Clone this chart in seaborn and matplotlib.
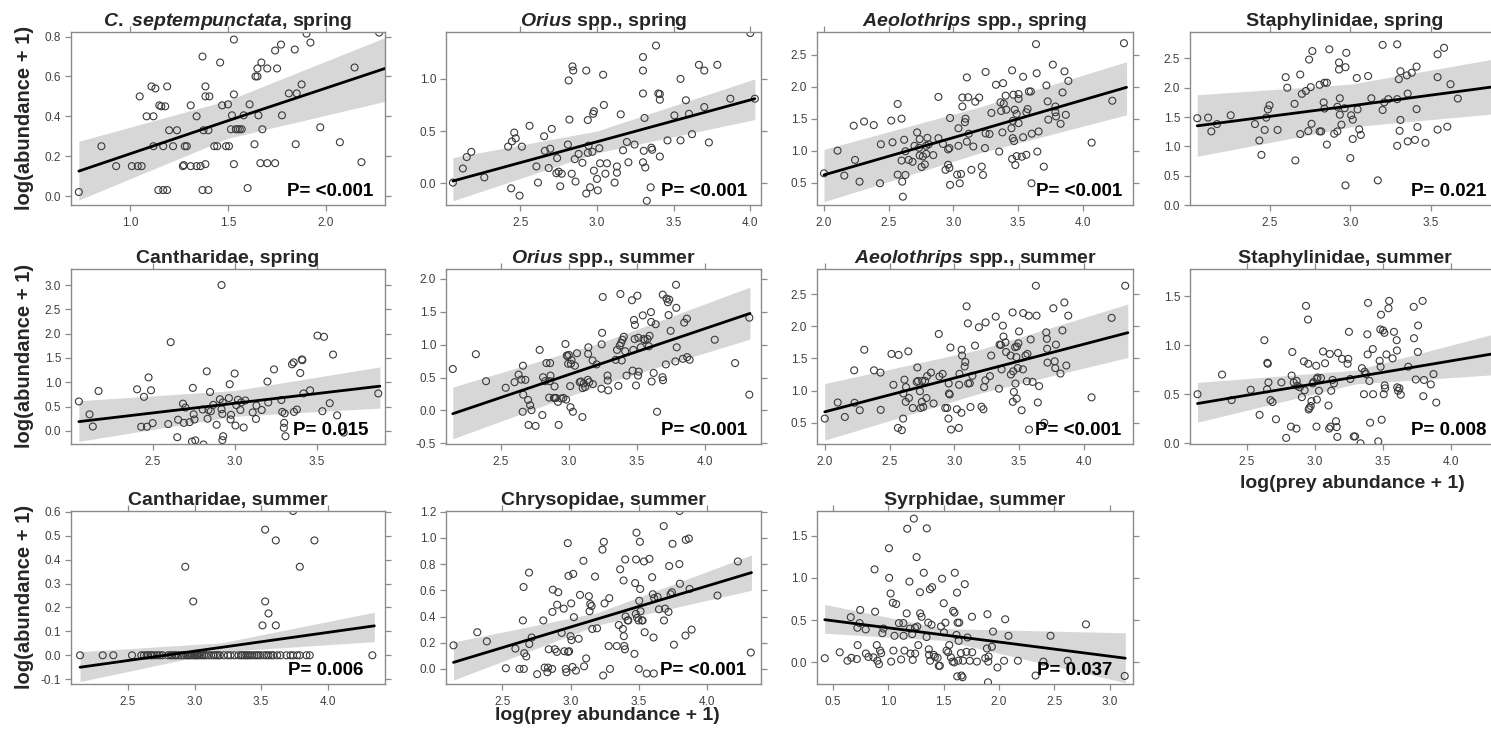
import numpy as np
import pandas as pd
import matplotlib
matplotlib.use("Agg")
import matplotlib.pyplot as plt
from matplotlib.ticker import FormatStrFormatter
import seaborn as sns

# ---------------- data ----------------
titles = [r'$\mathit{C.\ septempunctata}$, spring', r'$\mathit{Orius}$ spp., spring',
          r'$\mathit{Aeolothrips}$ spp., spring', 'Staphylinidae, spring',
          'Cantharidae, spring', r'$\mathit{Orius}$ spp., summer',
          r'$\mathit{Aeolothrips}$ spp., summer', 'Staphylinidae, summer',
          'Cantharidae, summer', 'Chrysopidae, summer', 'Syrphidae, summer']
p_labels = ['P= <0.001', 'P= <0.001', 'P= <0.001', 'P= 0.021', 'P= 0.015', 'P= <0.001',
            'P= <0.001', 'P= 0.008', 'P= 0.006', 'P= <0.001', 'P= 0.037']

c7_spring = [(0.74,0.02),(0.855,0.25),(0.93,0.15),(1.01,0.15),(1.04,0.15),(1.06,0.15),(1.05,0.50),(1.085,0.40),(1.11,0.55),(1.13,0.54),(1.12,0.40),(1.12,0.25),(1.145,0.03),(1.15,0.455),(1.16,0.45),(1.17,0.03),(1.18,0.45),(1.19,0.03),(1.19,0.55),(1.17,0.25),(1.20,0.33),(1.22,0.25),(1.24,0.33),(1.27,0.15),(1.275,0.155),(1.28,0.25),(1.29,0.25),(1.31,0.455),(1.31,0.15),(1.34,0.15),(1.34,0.40),(1.36,0.15),(1.37,0.70),(1.37,0.03),(1.375,0.33),(1.385,0.55),(1.385,0.50),(1.385,0.16),(1.40,0.33),(1.40,0.03),(1.405,0.50),(1.43,0.25),(1.445,0.25),(1.46,0.67),(1.47,0.455),(1.49,0.25),(1.50,0.46),(1.505,0.25),(1.52,0.405),(1.515,0.335),(1.53,0.785),(1.53,0.51),(1.53,0.16),(1.54,0.335),(1.55,0.335),(1.56,0.335),(1.57,0.335),(1.58,0.405),(1.60,0.04),(1.61,0.46),(1.635,0.26),(1.64,0.60),(1.65,0.60),(1.65,0.64),(1.655,0.405),(1.67,0.67),(1.675,0.335),(1.665,0.165),(1.70,0.64),(1.70,0.165),(1.74,0.73),(1.74,0.165),(1.75,0.64),(1.77,0.76),(1.775,0.405),(1.81,0.515),(1.84,0.735),(1.845,0.26),(1.85,0.515),(1.875,0.56),(1.90,0.815),(1.92,0.77),(1.97,0.345),(2.07,0.27),(2.145,0.645),(2.18,0.17),(2.27,0.82)]

orius_spring = [(2.06,0.005),(2.125,0.14),(2.15,0.25),(2.18,0.30),(2.265,0.055),(2.42,0.35),(2.44,-0.05),(2.445,0.40),(2.46,0.485),(2.47,0.43),(2.495,-0.12),(2.51,0.35),(2.56,0.55),(2.605,0.16),(2.615,0.005),(2.655,0.45),(2.66,0.31),(2.685,0.145),(2.695,0.33),(2.705,0.52),(2.74,0.24),(2.735,0.095),(2.75,0.11),(2.76,-0.03),(2.77,0.09),(2.81,0.37),(2.815,0.985),(2.82,0.61),(2.835,0.09),(2.84,1.12),(2.845,1.08),(2.855,0.23),(2.86,0.015),(2.88,0.28),(2.905,0.195),(2.93,1.08),(2.93,-0.10),(2.94,0.605),(2.94,0.29),(2.945,0.36),(2.955,-0.04),(2.97,0.30),(2.975,0.665),(2.98,0.69),(2.98,0.12),(3.00,0.04),(3.005,-0.07),(3.015,0.335),(3.02,0.19),(3.04,1.04),(3.045,0.75),(3.055,0.09),(3.065,0.19),(3.115,0.005),(3.13,0.16),(3.13,0.10),(3.155,0.66),(3.17,0.315),(3.195,0.395),(3.205,0.20),(3.245,0.37),(3.30,1.21),(3.30,1.08),(3.30,0.86),(3.30,0.20),(3.305,0.31),(3.31,0.625),(3.315,0.15),(3.325,-0.17),(3.35,-0.04),(3.355,0.34),(3.36,0.32),(3.385,1.32),(3.40,0.86),(3.41,0.855),(3.41,0.80),(3.41,0.255),(3.46,0.41),(3.505,0.65),(3.545,0.41),(3.545,1.00),(3.58,0.795),(3.60,0.665),(3.62,0.47),(3.665,1.135),(3.70,1.08),(3.70,0.73),(3.73,0.39),(3.785,1.135),(3.87,0.81),(4.0,1.44),(4.03,0.81)]

aeolo_spring = [(2.0,0.645),(2.105,1.00),(2.157,0.61),(2.23,1.39),(2.24,0.855),(2.275,0.515),(2.31,1.455),(2.385,1.40),(2.433,0.49),(2.44,1.10),(2.52,1.47),(2.53,1.13),(2.57,1.73),(2.57,0.625),(2.60,1.50),(2.60,0.845),(2.605,0.515),(2.61,0.28),(2.62,1.17),(2.63,0.62),(2.63,0.99),(2.655,0.855),(2.685,0.825),(2.70,1.075),(2.72,1.285),(2.735,1.045),(2.74,1.18),(2.74,0.925),(2.755,0.745),(2.765,0.91),(2.78,0.785),(2.79,1.075),(2.80,1.20),(2.81,1.10),(2.79,0.95),(2.845,0.93),(2.885,1.84),(2.885,1.195),(2.92,1.105),(2.94,0.70),(2.96,0.78),(2.96,1.02),(2.97,1.04),(2.97,0.73),(2.975,0.465),(2.975,1.51),(3.03,0.625),(3.04,1.35),(3.04,1.075),(3.05,0.49),(3.06,0.635),(3.07,1.69),(3.07,1.83),(3.09,1.445),(3.095,1.50),(3.105,1.14),(3.105,2.145),(3.115,1.835),(3.12,1.265),(3.14,0.70),(3.155,1.065),(3.17,1.765),(3.20,1.83),(3.22,0.75),(3.23,0.62),(3.245,1.04),(3.25,2.23),(3.25,1.27),(3.28,1.26),(3.295,1.59),(3.33,2.03),(3.355,0.985),(3.365,1.755),(3.37,1.62),(3.38,1.285),(3.385,2.055),(3.39,1.735),(3.41,1.64),(3.405,1.86),(3.455,2.255),(3.45,1.35),(3.455,0.87),(3.46,1.195),(3.46,1.465),(3.465,1.875),(3.47,1.15),(3.475,1.64),(3.48,0.775),(3.49,0.915),(3.49,1.575),(3.505,1.885),(3.505,1.81),(3.505,1.43),(3.53,0.905),(3.54,2.155),(3.54,1.21),(3.565,0.935),(3.565,1.60),(3.575,1.65),(3.585,1.925),(3.60,1.925),(3.605,0.49),(3.607,1.265),(3.64,2.665),(3.645,2.21),(3.65,0.985),(3.66,1.30),(3.70,0.75),(3.72,2.02),(3.73,1.77),(3.735,1.485),(3.77,2.345),(3.79,1.69),(3.79,1.60),(3.795,1.535),(3.83,1.42),(3.845,1.91),(3.86,2.24),(3.87,1.56),(3.89,2.09),(4.07,1.125),(4.23,1.78),(4.32,2.68)]

staph_spring = [(2.053,1.48),(2.12,1.49),(2.14,1.255),(2.175,1.38),(2.26,1.53),(2.41,1.38),(2.437,1.10),(2.45,0.855),(2.47,1.28),(2.48,1.49),(2.49,1.63),(2.50,1.70),(2.55,1.28),(2.60,2.18),(2.61,2.00),(2.655,1.725),(2.66,0.76),(2.69,2.225),(2.69,1.21),(2.70,1.895),(2.725,1.945),(2.74,1.26),(2.745,2.48),(2.755,2.01),(2.76,1.385),(2.765,2.625),(2.81,1.255),(2.82,1.255),(2.81,2.05),(2.835,1.75),(2.84,2.085),(2.84,1.645),(2.855,2.085),(2.855,1.03),(2.87,2.655),(2.90,1.215),(2.92,1.255),(2.92,1.675),(2.93,2.31),(2.93,2.43),(2.935,1.54),(2.935,1.82),(2.945,1.37),(2.965,1.65),(2.97,0.335),(2.97,2.35),(2.975,2.595),(3.00,0.80),(3.005,1.53),(3.015,1.455),(3.015,1.125),(3.04,2.165),(3.045,1.63),(3.055,1.29),(3.065,1.195),(3.11,2.20),(3.13,1.82),(3.17,0.42),(3.20,2.73),(3.20,1.62),(3.21,1.75),(3.235,1.805),(3.29,2.74),(3.30,2.145),(3.29,1.805),(3.29,1.01),(3.305,1.265),(3.31,1.45),(3.31,2.28),(3.35,2.21),(3.355,1.085),(3.355,1.90),(3.38,2.255),(3.40,1.11),(3.41,2.36),(3.41,1.635),(3.415,1.33),(3.465,1.06),(3.54,2.57),(3.54,2.18),(3.54,1.285),(3.58,2.68),(3.60,1.335),(3.62,2.06),(3.665,1.815)]

canth_spring = [(2.05,0.605),(2.115,0.34),(2.135,0.09),(2.17,0.82),(2.405,0.855),(2.43,0.085),(2.447,0.70),(2.465,0.085),(2.475,1.10),(2.49,0.835),(2.50,0.16),(2.595,0.14),(2.61,1.825),(2.65,-0.13),(2.655,0.23),(2.685,0.56),(2.69,0.165),(2.70,0.48),(2.725,0.18),(2.74,-0.22),(2.745,0.885),(2.75,0.34),(2.755,0.235),(2.76,-0.195),(2.805,0.44),(2.81,-0.28),(2.83,1.225),(2.835,0.25),(2.84,0.43),(2.85,0.80),(2.855,0.405),(2.87,0.535),(2.89,0.125),(2.91,0.65),(2.92,0.445),(2.92,3.00),(2.925,0.35),(2.925,-0.19),(2.93,-0.11),(2.928,0.585),(2.965,0.675),(2.97,0.96),(2.975,0.235),(2.978,0.33),(3.00,1.18),(3.005,0.11),(3.01,0.53),(3.02,0.64),(3.035,0.43),(3.04,0.585),(3.055,0.07),(3.065,0.625),(3.11,0.38),(3.13,0.245),(3.133,0.52),(3.165,0.43),(3.20,1.015),(3.205,0.585),(3.24,1.265),(3.285,0.635),(3.29,0.39),(3.30,0.065),(3.302,0.165),(3.305,0.36),(3.31,-0.11),(3.35,1.37),(3.36,1.41),(3.362,0.39),(3.38,0.44),(3.40,1.19),(3.41,1.47),(3.413,1.455),(3.42,0.77),(3.46,0.835),(3.505,1.96),(3.535,0.405),(3.545,1.935),(3.58,0.57),(3.60,1.57),(3.625,0.32),(3.665,-0.035),(3.876,0.77)]

orius_summer = [(2.145,0.63),(2.315,0.855),(2.39,0.445),(2.535,0.345),(2.60,0.43),(2.63,0.545),(2.65,0.47),(2.66,-0.02),(2.662,0.68),(2.664,0.24),(2.68,0.465),(2.70,0.16),(2.703,-0.22),(2.715,0.08),(2.725,0.005),(2.755,-0.235),(2.785,0.92),(2.805,-0.07),(2.81,0.505),(2.825,0.445),(2.835,0.72),(2.855,0.195),(2.86,0.445),(2.862,0.72),(2.865,0.53),(2.89,0.19),(2.895,0.365),(2.897,0.19),(2.905,0.19),(2.92,0.13),(2.925,-0.22),(2.945,0.18),(2.96,0.19),(2.975,1.01),(2.98,0.165),(2.985,0.835),(2.99,0.825),(2.995,0.71),(3.00,0.845),(3.01,0.37),(3.012,0.05),(3.015,0.71),(3.03,-0.02),(3.02,0.765),(3.045,0.68),(3.06,0.87),(3.08,0.43),(3.09,0.44),(3.10,-0.10),(3.102,0.34),(3.11,0.41),(3.12,0.355),(3.14,0.465),(3.142,0.86),(3.144,0.96),(3.15,0.43),(3.175,0.76),(3.177,0.40),(3.205,0.70),(3.24,0.33),(3.242,1.005),(3.245,1.18),(3.25,1.725),(3.285,0.53),(3.287,0.455),(3.29,0.305),(3.345,0.77),(3.355,0.92),(3.365,0.375),(3.375,0.985),(3.38,1.77),(3.385,1.025),(3.39,0.76),(3.395,1.075),(3.405,1.12),(3.415,0.90),(3.425,0.53),(3.465,1.675),(3.47,0.605),(3.475,0.92),(3.48,1.375),(3.485,1.085),(3.487,1.30),(3.495,0.38),(3.505,1.745),(3.51,0.53),(3.515,0.59),(3.512,1.105),(3.53,0.96),(3.545,1.445),(3.55,1.085),(3.56,1.07),(3.58,1.085),(3.59,0.975),(3.595,1.135),(3.605,1.495),(3.607,1.345),(3.61,0.44),(3.625,0.57),(3.64,1.31),(3.65,-0.02),(3.69,0.505),(3.692,1.76),(3.694,0.46),(3.715,0.70),(3.72,1.70),(3.73,1.645),(3.735,1.45),(3.74,1.685),(3.75,1.21),(3.785,0.745),(3.79,1.91),(3.792,1.56),(3.795,0.96),(3.84,0.785),(3.85,1.335),(3.87,1.395),(3.872,0.81),(3.89,0.77),(4.075,1.075),(4.225,0.72),(4.33,1.41),(4.33,0.24)]

aeolo_summer = [(2.0,0.565),(2.10,0.815),(2.155,0.59),(2.227,1.315),(2.23,0.81),(2.27,0.695),(2.305,1.635),(2.38,1.315),(2.43,1.28),(2.432,0.70),(2.515,1.57),(2.53,1.09),(2.565,0.42),(2.57,1.555),(2.595,0.385),(2.605,0.565),(2.607,0.955),(2.615,1.17),(2.625,0.825),(2.627,1.055),(2.645,1.61),(2.65,0.885),(2.68,0.73),(2.71,1.135),(2.715,1.36),(2.72,1.15),(2.735,0.99),(2.74,0.73),(2.75,0.825),(2.752,1.15),(2.76,0.745),(2.775,1.15),(2.785,0.885),(2.79,1.225),(2.82,1.28),(2.84,0.80),(2.88,1.88),(2.885,1.22),(2.91,1.26),(2.93,0.73),(2.945,0.73),(2.955,0.565),(2.957,1.11),(2.959,0.955),(2.965,0.94),(2.97,1.67),(2.975,0.395),(3.02,0.71),(3.035,0.42),(3.037,1.09),(3.04,1.26),(3.055,0.655),(3.057,1.635),(3.06,1.545),(3.08,1.375),(3.085,1.445),(3.095,2.31),(3.105,2.045),(3.107,1.11),(3.12,1.115),(3.125,0.745),(3.14,1.23),(3.16,1.70),(3.19,1.985),(3.21,0.75),(3.225,0.71),(3.23,1.055),(3.24,1.16),(3.242,2.06),(3.275,1.225),(3.285,1.545),(3.32,2.15),(3.345,1.03),(3.35,1.715),(3.36,1.71),(3.365,1.33),(3.375,2.01),(3.38,1.84),(3.395,1.75),(3.40,1.60),(3.435,1.545),(3.437,1.25),(3.45,2.215),(3.452,0.825),(3.455,1.30),(3.46,0.98),(3.47,1.675),(3.472,1.11),(3.48,1.52),(3.482,0.875),(3.484,1.685),(3.49,1.35),(3.495,1.735),(3.50,1.92),(3.52,0.695),(3.53,1.33),(3.532,2.205),(3.55,1.545),(3.56,1.145),(3.565,1.57),(3.575,2.165),(3.577,0.395),(3.59,1.795),(3.605,1.135),(3.63,2.63),(3.635,2.165),(3.645,0.815),(3.655,1.07),(3.695,0.50),(3.71,1.905),(3.715,1.805),(3.717,1.65),(3.72,1.435),(3.765,2.28),(3.775,1.455),(3.78,1.35),(3.785,1.715),(3.82,1.265),(3.835,1.935),(3.85,2.37),(3.865,1.39),(3.88,2.165),(4.06,0.895),(4.215,2.13),(4.32,2.63)]

staph_summer = [(2.14,0.50),(2.32,0.70),(2.39,0.44),(2.53,0.545),(2.595,0.29),(2.63,1.05),(2.65,0.55),(2.652,0.82),(2.655,0.81),(2.66,0.62),(2.675,0.44),(2.69,0.42),(2.715,0.245),(2.755,0.62),(2.79,0.055),(2.83,0.69),(2.825,0.17),(2.835,0.93),(2.845,0.62),(2.865,0.15),(2.867,0.635),(2.87,0.585),(2.89,0.57),(2.905,0.47),(2.92,0.835),(2.925,0.54),(2.935,1.40),(2.95,1.26),(2.952,0.81),(2.955,0.345),(2.96,0.36),(2.97,0.38),(2.975,0.43),(2.985,0.61),(2.99,0.625),(3.01,0.79),(3.012,0.17),(3.014,0.655),(3.015,0.445),(3.02,0.67),(3.03,0.535),(3.045,0.665),(3.06,0.935),(3.075,0.815),(3.10,0.385),(3.105,0.15),(3.11,0.91),(3.115,0.17),(3.12,0.535),(3.13,0.645),(3.14,0.61),(3.155,0.225),(3.16,0.165),(3.165,0.065),(3.17,0.92),(3.20,0.86),(3.24,0.81),(3.245,0.86),(3.25,1.135),(3.26,0.655),(3.285,0.07),(3.295,0.07),(3.335,0.0),(3.345,0.765),(3.36,0.50),(3.365,0.73),(3.375,0.705),(3.385,1.11),(3.387,0.905),(3.39,1.43),(3.40,0.635),(3.405,0.21),(3.425,0.96),(3.427,0.50),(3.465,0.02),(3.475,0.84),(3.48,1.16),(3.482,0.78),(3.485,1.31),(3.49,0.24),(3.50,1.15),(3.51,1.125),(3.505,0.50),(3.512,0.59),(3.515,0.56),(3.525,0.905),(3.54,1.375),(3.545,1.45),(3.57,0.865),(3.58,1.135),(3.60,1.05),(3.602,0.945),(3.604,0.57),(3.61,0.535),(3.62,0.56),(3.63,0.495),(3.685,0.78),(3.725,1.39),(3.727,1.07),(3.74,0.65),(3.755,0.93),(3.757,1.20),(3.79,1.45),(3.795,0.48),(3.80,0.645),(3.85,0.60),(3.87,0.705),(3.89,0.415)]

canth_summer = [(2.14,0.0),(2.31,0.0),(2.39,0.0),(2.53,0.0),(2.60,0.0),(2.62,0.0),(2.64,0.0),(2.65,0.0),(2.67,0.0),(2.68,0.0),(2.70,0.0),(2.72,0.0),(2.74,0.0),(2.76,0.0),(2.80,0.0),(2.82,0.0),(2.83,0.0),(2.85,0.0),(2.86,0.0),(2.88,0.0),(2.90,0.0),(2.92,0.0),(2.94,0.0),(2.955,0.0),(2.965,0.0),(2.98,0.0),(2.995,0.0),(3.005,0.0),(3.015,0.0),(3.025,0.0),(3.04,0.0),(3.055,0.0),(3.07,0.0),(3.085,0.0),(3.105,0.0),(3.125,0.0),(3.145,0.0),(3.16,0.0),(3.175,0.0),(3.19,0.0),(3.22,0.0),(3.25,0.0),(3.27,0.0),(3.30,0.0),(3.33,0.0),(3.35,0.0),(3.36,0.0),(3.375,0.0),(3.39,0.0),(3.40,0.0),(3.415,0.0),(3.43,0.0),(3.45,0.0),(3.465,0.0),(3.48,0.0),(3.495,0.0),(3.52,0.0),(3.54,0.0),(3.555,0.0),(3.575,0.0),(3.59,0.0),(3.62,0.0),(3.645,0.0),(3.69,0.0),(3.72,0.0),(3.74,0.0),(3.77,0.0),(3.79,0.0),(3.84,0.0),(3.865,0.0),(4.335,0.0),(2.93,0.37),(2.99,0.225),(3.74,0.603),(3.53,0.525),(3.61,0.48),(3.90,0.48),(3.79,0.37),(3.53,0.225),(3.555,0.175),(3.51,0.125),(3.61,0.125)]

chryso_summer = [(2.14,0.18),(2.315,0.28),(2.385,0.21),(2.525,0.005),(2.595,0.155),(2.625,0.0),(2.655,0.625),(2.65,0.37),(2.657,0.0),(2.66,0.12),(2.675,0.095),(2.695,0.735),(2.697,0.19),(2.715,0.24),(2.755,-0.04),(2.80,0.37),(2.81,0.01),(2.83,-0.025),(2.835,0.01),(2.84,0.15),(2.865,0.0),(2.867,0.435),(2.87,0.605),(2.885,0.15),(2.90,0.13),(2.91,0.585),(2.902,0.49),(2.935,0.275),(2.955,0.135),(2.95,0.46),(2.965,0.0),(2.97,-0.025),(2.98,0.96),(2.985,0.71),(2.982,0.13),(2.99,0.135),(3.0,0.25),(3.005,0.50),(3.007,0.22),(3.015,0.015),(3.02,0.725),(3.025,0.395),(3.04,-0.013),(3.06,0.23),(3.07,0.565),(3.095,0.825),(3.10,0.02),(3.115,0.08),(3.135,0.555),(3.14,0.44),(3.145,0.495),(3.155,0.48),(3.16,0.305),(3.18,0.705),(3.195,0.31),(3.235,0.91),(3.24,-0.05),(3.245,0.97),(3.25,0.50),(3.28,0.175),(3.285,0.54),(3.29,0.0),(3.34,0.175),(3.355,0.335),(3.365,0.76),(3.385,0.305),(3.39,0.675),(3.392,0.25),(3.395,0.175),(3.40,0.15),(3.402,0.835),(3.405,0.40),(3.42,0.37),(3.425,0.37),(3.47,0.115),(3.475,0.655),(3.48,0.42),(3.482,0.835),(3.485,1.04),(3.49,0.39),(3.50,0.37),(3.502,0.0),(3.505,0.52),(3.51,0.97),(3.512,0.61),(3.515,0.44),(3.525,0.37),(3.53,0.37),(3.54,0.82),(3.545,0.28),(3.56,-0.035),(3.58,0.84),(3.60,0.70),(3.605,0.57),(3.61,0.24),(3.612,-0.035),(3.615,0.54),(3.64,0.55),(3.65,0.455),(3.685,1.09),(3.687,0.37),(3.695,0.46),(3.72,0.435),(3.725,0.785),(3.735,0.57),(3.745,0.585),(3.75,0.955),(3.76,0.185),(3.80,0.80),(3.802,1.205),(3.804,0.65),(3.845,0.255),(3.847,0.985),(3.87,0.995),(3.875,0.61),(3.89,0.30),(4.08,0.56),(4.23,0.82),(4.325,0.125)]

syrph_summer = [(0.425,0.05),(0.56,0.12),(0.63,0.02),(0.66,0.535),(0.665,0.055),(0.715,0.04),(0.72,0.41),(0.722,0.205),(0.74,0.465),(0.745,0.62),(0.795,0.39),(0.797,0.105),(0.82,0.065),(0.865,0.06),(0.875,1.10),(0.88,0.60),(0.895,0.205),(0.90,0.02),(0.915,-0.02),(0.925,0.14),(0.935,0.11),(0.945,0.345),(0.955,0.40),(1.005,1.35),(1.007,1.00),(1.02,0.815),(1.025,0.01),(1.04,0.705),(1.045,0.14),(1.055,0.315),(1.07,0.69),(1.095,0.465),(1.115,0.035),(1.135,0.465),(1.137,0.315),(1.145,0.14),(1.165,0.58),(1.17,1.58),(1.19,0.955),(1.195,0.40),(1.20,0.105),(1.215,0.335),(1.22,0.03),(1.23,1.70),(1.24,0.41),(1.242,0.105),(1.255,1.245),(1.26,0.425),(1.27,0.205),(1.285,0.83),(1.287,0.58),(1.30,0.54),(1.32,1.06),(1.345,0.30),(1.347,1.585),(1.36,0.47),(1.365,0.155),(1.367,0.09),(1.375,0.865),(1.377,0.02),(1.39,0.445),(1.395,0.89),(1.41,0.09),(1.42,0.065),(1.445,0.055),(1.455,-0.04),(1.465,-0.04),(1.475,0.425),(1.485,0.99),(1.50,0.70),(1.502,0.355),(1.515,0.47),(1.525,0.14),(1.54,0.12),(1.55,0.205),(1.565,0.06),(1.58,0.01),(1.585,0.61),(1.595,0.0),(1.597,0.59),(1.60,1.06),(1.615,0.325),(1.62,0.825),(1.622,-0.165),(1.625,0.47),(1.63,0.02),(1.635,0.255),(1.64,0.47),(1.655,0.11),(1.66,-0.155),(1.67,-0.175),(1.675,0.02),(1.69,0.925),(1.705,0.125),(1.715,0.295),(1.735,0.02),(1.755,0.54),(1.757,0.12),(1.80,0.01),(1.875,0.05),(1.89,0.165),(1.895,0.57),(1.90,-0.235),(1.902,0.01),(1.905,0.07),(1.935,0.185),(1.945,0.365),(1.985,-0.06),(2.045,0.02),(2.055,0.51),(2.085,0.315),(2.17,0.02),(2.33,-0.155),(2.40,0.01),(2.465,0.315),(2.62,0.02),(2.785,0.45),(3.135,-0.16)]

# fitted line and confidence band (x, fit, lower, upper)
fit_x = [[0.74, 1.50, 2.30], [2.06, 3.00, 4.03], [2.00, 3.20, 4.34], [2.053, 3.00, 3.87],
         [2.05, 3.00, 3.886], [2.145, 3.25, 4.335], [2.00, 3.20, 4.34], [2.14, 3.30, 4.33],
         [2.14, 3.20, 4.35], [2.14, 3.20, 4.33], [0.425, 1.50, 3.14]]
fit_y = [[0.125, 0.378, 0.64], [0.02, 0.397, 0.81], [0.62, 1.32, 1.99], [1.35, 1.69, 2.01],
         [0.19, 0.568, 0.92], [-0.05, 0.719, 1.475], [0.67, 1.30, 1.90], [0.405, 0.676, 0.917],
         [-0.05, 0.033, 0.123], [0.05, 0.382, 0.735], [0.505, 0.325, 0.05]]
band_lo = [[-0.02, 0.29, 0.475], [-0.17, 0.29, 0.61], [0.20, 0.96, 1.56], [0.83, 1.33, 1.55],
           [-0.215, 0.30, 0.47], [-0.43, 0.40, 1.085], [0.23, 0.96, 1.515], [0.215, 0.605, 0.70],
           [-0.11, 0.015, 0.057], [-0.085, 0.335, 0.60], [0.345, 0.26, -0.24]]
band_hi = [[0.275, 0.48, 0.795], [0.245, 0.50, 1.00], [1.02, 1.68, 2.39], [1.88, 2.06, 2.48],
           [0.62, 0.83, 1.315], [0.355, 1.04, 1.875], [1.11, 1.64, 2.345], [0.62, 0.745, 1.12],
           [0.015, 0.052, 0.18], [0.205, 0.43, 0.87], [0.685, 0.40, 0.35]]

x_ticks = [[1.0, 1.5, 2.0], [2.5, 3.0, 3.5, 4.0], [2.0, 2.5, 3.0, 3.5, 4.0], [2.5, 3.0, 3.5],
           [2.5, 3.0, 3.5], [2.5, 3.0, 3.5, 4.0], [2.0, 2.5, 3.0, 3.5, 4.0], [2.5, 3.0, 3.5, 4.0],
           [2.5, 3.0, 3.5, 4.0], [2.5, 3.0, 3.5, 4.0], [0.5, 1.0, 1.5, 2.0, 2.5, 3.0]]
y_ticks = [[0.0, 0.2, 0.4, 0.6, 0.8], [0.0, 0.5, 1.0], [0.5, 1.0, 1.5, 2.0, 2.5],
           [0.0, 0.5, 1.0, 1.5, 2.0, 2.5], [0.0, 0.5, 1.0, 1.5, 2.0, 2.5, 3.0],
           [-0.5, 0.0, 0.5, 1.0, 1.5, 2.0], [0.5, 1.0, 1.5, 2.0, 2.5], [0.0, 0.5, 1.0, 1.5],
           [-0.1, 0.0, 0.1, 0.2, 0.3, 0.4, 0.5, 0.6], [0.0, 0.2, 0.4, 0.6, 0.8, 1.0, 1.2],
           [0.0, 0.5, 1.0, 1.5]]
x_lims = [(0.70, 2.30), (2.015, 4.07), (1.946, 4.39), (2.008, 3.92), (2.002, 3.917),
          (2.095, 4.416), (1.94, 4.38), (2.085, 4.35), (2.072, 4.43), (2.085, 4.40), (0.355, 3.21)]
y_lims = [(-0.045, 0.823), (-0.21, 1.45), (0.15, 2.855), (0.0, 2.95), (-0.27, 3.33),
          (-0.51, 2.15), (0.17, 2.89), (-0.007, 1.775), (-0.12, 0.603), (-0.115, 1.205),
          (-0.255, 1.79)]

panels = [c7_spring, orius_spring, aeolo_spring, staph_spring, canth_spring, orius_summer,
          aeolo_summer, staph_summer, canth_summer, chryso_summer, syrph_summer]

# ---------------- style ----------------
sns.set_style("ticks")
plt.rcParams['font.family'] = ['Liberation Sans', 'DejaVu Sans']
plt.rcParams['mathtext.fontset'] = 'custom'
plt.rcParams['mathtext.it'] = 'Liberation Sans:italic:bold'
plt.rcParams['mathtext.rm'] = 'Liberation Sans:bold'
plt.rcParams['mathtext.bf'] = 'Liberation Sans:bold'
plt.rcParams['axes.unicode_minus'] = False

W, H = 1491, 741
fig = plt.figure(figsize=(W / 100, H / 100), dpi=100)

cols = [(71, 385), (446, 761), (817, 1133), (1190, 1499)]
rows = [(32, 205), (269, 444), (511, 684)]
grid = [(0, 0), (0, 1), (0, 2), (0, 3), (1, 0), (1, 1), (1, 2), (1, 3), (2, 0), (2, 1), (2, 2)]
p_inset = [12, 14, 11, 13, 17, 14, 12, 12, 22, 15, 21]

spine_col = '#8a8a8a'
for i, pts in enumerate(panels):
    r, c = grid[i]
    l, rr = cols[c]
    t, b = rows[r]
    ax = fig.add_axes([l / W, 1 - b / H, (rr - l) / W, (b - t) / H])
    df = pd.DataFrame(pts, columns=['x', 'y'])
    ax.fill_between(fit_x[i], band_lo[i], band_hi[i], color='#d7d7d7', lw=0, zorder=1)
    sns.scatterplot(data=df, x='x', y='y', ax=ax, marker='o', s=25, fc='none',
                    ec='#3a3a3a', linewidth=0.8, zorder=2)
    sns.lineplot(x=fit_x[i], y=fit_y[i], ax=ax, color='black', linewidth=2.0, zorder=3)
    ax.set_xlim(*x_lims[i])
    ax.set_ylim(*y_lims[i])
    ax.set_xticks(x_ticks[i])
    ax.set_yticks(y_ticks[i])
    ax.xaxis.set_major_formatter(FormatStrFormatter('%.1f'))
    ax.yaxis.set_major_formatter(FormatStrFormatter('%.1f'))
    ax.set_xlabel('')
    ax.set_ylabel('')
    for s in ax.spines.values():
        s.set_visible(True)
        s.set_color(spine_col)
        s.set_linewidth(1.0)
    ax.tick_params(axis='both', which='major', direction='out', length=4, width=0.9,
                   color=spine_col, labelsize=8.5, labelcolor='#404040',
                   top=True, right=True, labeltop=False, labelright=False, pad=3)
    ax.tick_params(axis='x', pad=4.5)
    ax.set_title(titles[i], fontsize=14, fontweight='bold', pad=4)
    ax.annotate(p_labels[i], xy=(1, 0), xycoords='axes fraction',
                xytext=(-p_inset[i], 9), textcoords='offset pixels',
                ha='right', va='baseline', fontsize=13.5, fontweight='bold',
                color='black', zorder=5)

for yc in [118, 356, 597]:
    fig.text(25 / W, 1 - yc / H, 'log(abundance + 1)', rotation=90, ha='center',
             va='center', fontsize=14.5, fontweight='bold')
fig.text(1352 / W, 1 - 483 / H, 'log(prey abundance + 1)', ha='center', va='center',
         fontsize=14, fontweight='bold')
fig.text(607 / W, 1 - 716 / H, 'log(prey abundance + 1)', ha='center', va='center',
         fontsize=14, fontweight='bold')

fig.savefig('out.png', dpi=100, facecolor='white')
